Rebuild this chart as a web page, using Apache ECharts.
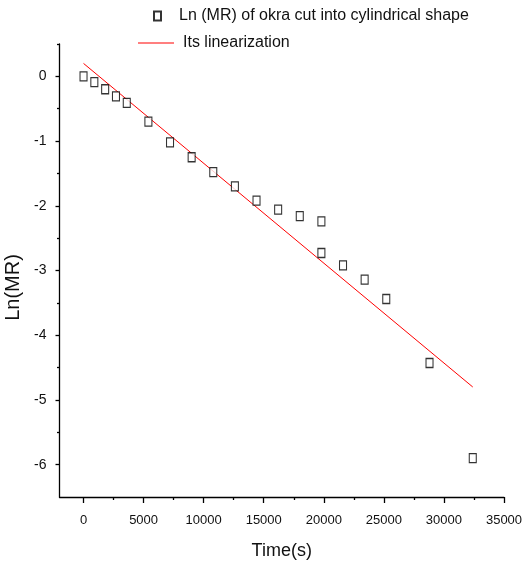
<!DOCTYPE html>
<html><head><meta charset="utf-8">
<script src="https://cdn.jsdelivr.net/npm/echarts@6/dist/echarts.min.js"></script>
<style>html,body{margin:0;padding:0;background:#fff}#c{width:522px;height:569px}</style>
</head><body><div id="c"></div>
<script>
const timeS = [0, 900, 1800, 2700, 3600, 5400, 7200, 9000, 10800, 12600, 14400, 16200, 18000, 19800, 19800, 21600, 23400, 25200, 28800, 32400];
const lnMR = [0, -0.09, -0.2, -0.31, -0.41, -0.70, -1.02, -1.25, -1.48, -1.70, -1.92, -2.06, -2.16, -2.24, -2.73, -2.92, -3.14, -3.44, -4.43, -5.90];
const fitX = [0, 32400];
const fitY = [0.2, -4.8];
const xMajorTicks = [0, 5000, 10000, 15000, 20000, 25000, 30000, 35000];
const xMinorTicks = [2500, 7500, 12500, 17500, 22500, 27500, 32500];
const yMajorTicks = [0, -1, -2, -3, -4, -5, -6];
const yMinorTicks = [0.5, -0.5, -1.5, -2.5, -3.5, -4.5, -5.5];
const seriesNames = ['Ln (MR) of okra cut into cylindrical shape', 'Its linearization'];
const axisNames = ['Time(s)', 'Ln(MR)'];

const mainFont = "'Liberation Sans', Arial, sans-serif";
const black = '#000';
const txt = '#111';

const chart = echarts.init(document.getElementById('c'), null, {renderer: 'canvas'});
chart.setOption({
  animation: false,
  backgroundColor: '#fff',
  grid: {left: 59.5, right: 18, top: 44, bottom: 72, containLabel: false, outerBoundsMode: 'none'},
  legend: [
    {data: [{name: seriesNames[0]}], left: 153, top: 8, padding: 0, itemWidth: 7, itemHeight: 9,
     textStyle: {fontFamily: mainFont, fontSize: 16, color: txt, padding: [0, 0, 0, 13]}},
    {data: [{name: seriesNames[1], icon: 'rect'}], left: 138, top: 35, padding: 0, itemWidth: 36, itemHeight: 1,
     textStyle: {fontFamily: mainFont, fontSize: 16, color: txt, padding: [0, 0, 0, 4]}}
  ],
  xAxis: [
    {type: 'value', min: -2000, max: 35000, position: 'bottom',
     name: axisNames[0], nameLocation: 'middle', nameGap: 45,
     nameTextStyle: {fontFamily: mainFont, fontSize: 18, color: txt},
     axisLine: {show: true, onZero: false, lineStyle: {color: black, width: 1.3}},
     axisTick: {show: true, inside: false, length: 6, customValues: xMajorTicks, lineStyle: {color: black, width: 1.3}},
     axisLabel: {customValues: xMajorTicks, margin: 17, fontFamily: mainFont, fontSize: 13, color: txt,
                 formatter: v => String(v)},
     splitLine: {show: false}},
    {type: 'value', min: -2000, max: 35000, position: 'bottom',
     axisLine: {show: false, onZero: false},
     axisTick: {show: true, inside: false, length: 3, customValues: xMinorTicks, lineStyle: {color: black, width: 1.3}},
     axisLabel: {show: false},
     splitLine: {show: false}}
  ],
  yAxis: [
    {type: 'value', min: -6.5, max: 0.5, position: 'left',
     name: axisNames[1], nameLocation: 'middle', nameGap: 35,
     nameTextStyle: {fontFamily: mainFont, fontSize: 20, color: txt, padding: [0, 34, 0, 0]},
     axisLine: {show: true, onZero: false, lineStyle: {color: black, width: 1.3}},
     axisTick: {show: true, inside: false, length: 4, customValues: yMajorTicks, lineStyle: {color: black, width: 1.3}},
     axisLabel: {customValues: yMajorTicks, margin: 13, fontFamily: mainFont, fontSize: 14, color: txt,
                 formatter: v => String(v)},
     splitLine: {show: false}},
    {type: 'value', min: -6.5, max: 0.5, position: 'left',
     axisLine: {show: false, onZero: false},
     axisTick: {show: true, inside: false, length: 2.5, customValues: yMinorTicks, lineStyle: {color: black, width: 1.3}},
     axisLabel: {show: false},
     splitLine: {show: false}}
  ],
  series: [
    {name: seriesNames[1], type: 'line', xAxisIndex: 0, yAxisIndex: 0,
     data: fitX.map((x, i) => [x, fitY[i]]), symbol: 'none', showSymbol: false,
     lineStyle: {color: '#ff0000', width: 1}, itemStyle: {color: '#ff0000'}, z: 2},
    {name: seriesNames[0], type: 'scatter', xAxisIndex: 0, yAxisIndex: 0,
     data: timeS.map((t, i) => [t, lnMR[i]]), symbol: 'rect', symbolSize: [7, 9],
     itemStyle: {color: '#fff', borderColor: '#000', borderWidth: 1.2}, z: 3}
  ]
});
</script></body></html>
